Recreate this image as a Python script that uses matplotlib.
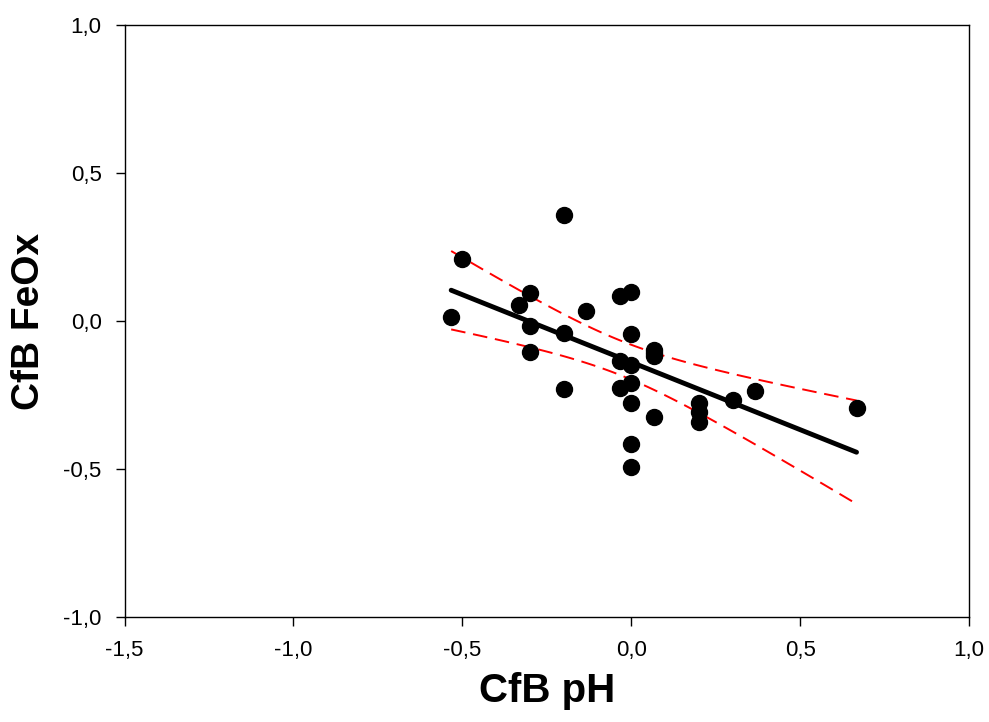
import numpy as np
import matplotlib
matplotlib.use('Agg')
import matplotlib.pyplot as plt
from matplotlib.ticker import FuncFormatter

plt.rcParams['font.family'] = ['Liberation Sans', 'DejaVu Sans']

# CfB pH vs CfB FeOx
ph = [-0.200, -0.500, -0.300, -0.333, -0.533, -0.300, -0.200, -0.300, -0.200,
      -0.133, -0.033, 0.000, 0.000, -0.033, 0.000, -0.033, 0.000, 0.000,
      0.067, 0.067, 0.067, 0.067, 0.000, 0.000,
      0.200, 0.200, 0.200, 0.300, 0.367, 0.667]
feox = [0.358, 0.208, 0.096, 0.054, 0.015, -0.017, -0.042, -0.106, -0.231,
        0.035, 0.084, 0.099, -0.045, -0.134, -0.149, -0.225, -0.211, -0.278,
        -0.098, -0.118, -0.107, -0.323, -0.416, -0.494,
        -0.276, -0.306, -0.340, -0.267, -0.235, -0.295]

x = np.array(ph)
y = np.array(feox)
n = len(x)
slope, intercept = np.polyfit(x, y, 1)
xs = np.linspace(x.min(), x.max(), 100)
fit = intercept + slope * xs
resid = y - (intercept + slope * x)
s = np.sqrt(np.sum(resid ** 2) / (n - 2))
t = 2.048
se = s * np.sqrt(1 / n + (xs - x.mean()) ** 2 / np.sum((x - x.mean()) ** 2))

fig = plt.figure(figsize=(9.89, 7.22), dpi=100)
ax = fig.add_axes([0.1259, 0.1454, 0.8539, 0.82])

ax.plot(xs, fit, color='black', linewidth=3.5, solid_capstyle='round', zorder=3)
ax.plot(xs, fit + t * se, color='red', linestyle=(0, (7.5, 4)), linewidth=1.4, zorder=2)
ax.plot(xs, fit - t * se, color='red', linestyle=(0, (7.5, 4)), linewidth=1.4, zorder=2)
ax.plot(x, y, 'o', color='black', markersize=11.5, zorder=4)

ax.set_xlim(-1.5, 1.0)
ax.set_ylim(-1.0, 1.0)
ax.set_xticks([-1.5, -1.0, -0.5, 0.0, 0.5, 1.0])
ax.set_yticks([-1.0, -0.5, 0.0, 0.5, 1.0])
comma = FuncFormatter(lambda v, p: f'{v:.1f}'.replace('.', ','))
ax.xaxis.set_major_formatter(comma)
ax.yaxis.set_major_formatter(comma)
ax.tick_params(direction='out', length=6.5, width=1, labelsize=16, top=False, right=False)
ax.tick_params(axis='x', pad=10)
ax.tick_params(axis='y', pad=10)
for sp in ax.spines.values():
    sp.set_linewidth(1)

ax.set_xlabel('CfB pH', fontsize=29, fontweight='bold', labelpad=8)
ax.set_ylabel('CfB FeOx', fontsize=28, fontweight='bold', labelpad=12)

fig.savefig('out.png', dpi=100)
